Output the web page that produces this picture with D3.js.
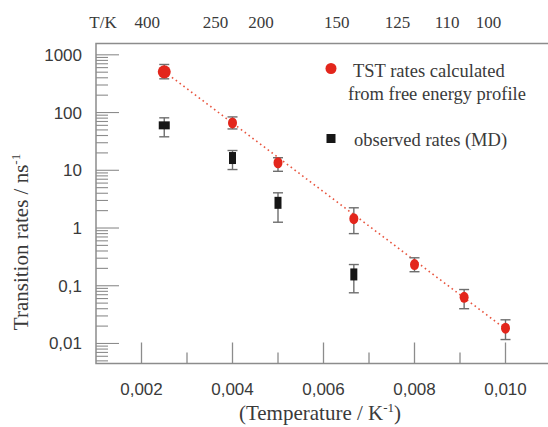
<!DOCTYPE html>
<html>
<head>
<meta charset="utf-8">
<script src="https://cdn.jsdelivr.net/npm/d3@7"></script>
<style>
  body { margin: 0; background: #fff; }
  svg { display: block; }
</style>
</head>
<body>
<svg id="chart" width="548" height="427"></svg>
<script>
// Inverse temperature (1/K) of each simulation
const invT = [0.0025, 0.004, 0.005, 1 / 150, 0.008, 1 / 110, 0.01];
const topTemps = [400, 250, 200, 150, 125, 110, 100];

// TST rates calculated from free energy profile (ns^-1)
const tstRate = [508, 66, 13.5, 1.45, 0.233, 0.063, 0.0184];
const tstLow = [384, 52, 9.6, 0.80, 0.175, 0.040, 0.0117];
const tstHigh = [680, 84, 16.5, 2.24, 0.305, 0.086, 0.0257];

// observed rates (MD)
const mdInvT = [0.0025, 0.004, 0.005, 1 / 150];
const mdRate = [60, 16.3, 2.73, 0.157];
const mdLow = [38, 10.3, 1.26, 0.0755];
const mdHigh = [81, 22, 4.07, 0.233];

// dotted Arrhenius fit
const fitInvT = [0.0025, 0.01];
const fitRate = [513, 0.0178];

const xTicks = [0.002, 0.004, 0.006, 0.008, 0.010];
const xMinor = [0.003, 0.005, 0.007, 0.009];
const yTicks = [1000, 100, 10, 1, 0.1, 0.01];
const yTickLabels = ['1000', '100', '10', '1', '0,1', '0,01'];

const svg = d3.select('#chart');
const plotLeft = 96, plotTop = 43.5, plotBottom = 363.5;

const x = d3.scaleLinear().domain([0.001, 0.011]).range([plotLeft, 551]);
const y = d3.scaleLog().domain([0.0045, 1570]).range([plotBottom, plotTop]);

const frame = '#8c8c8c';
const red = '#e3261c';
const txt = '#3a3a3a';
const serif = '"Liberation Serif", "DejaVu Serif", serif';
const sans = '"Liberation Sans", Arial, sans-serif';

// frame: top, left, bottom
svg.append('path')
    .attr('d', `M548,${plotTop}H${plotLeft}V${plotBottom}H548`)
    .attr('fill', 'none')
    .attr('stroke', frame)
    .attr('stroke-width', 1.5);

// x ticks (inside)
svg.selectAll('.xmaj').data(xTicks).enter().append('line')
    .attr('x1', d => x(d)).attr('x2', d => x(d))
    .attr('y1', plotBottom).attr('y2', plotBottom - 21)
    .attr('stroke', frame).attr('stroke-width', 1.3);
svg.selectAll('.xmin').data(xMinor).enter().append('line')
    .attr('x1', d => x(d)).attr('x2', d => x(d))
    .attr('y1', plotBottom).attr('y2', plotBottom - 11)
    .attr('stroke', frame).attr('stroke-width', 1.3);

svg.selectAll('.xlab').data(xTicks).enter().append('text')
    .attr('x', d => x(d)).attr('y', 395)
    .attr('text-anchor', 'middle')
    .attr('font-family', sans).attr('font-size', 17).attr('fill', txt)
    .text(d => d3.format('.3f')(d).replace('.', ','));

// y ticks (inside), log scale
const yAll = y.ticks().filter(d => d >= 0.005 && d <= 1500);
svg.selectAll('.ytick').data(yAll).enter().append('line')
    .attr('x1', plotLeft).attr('y1', d => y(d)).attr('y2', d => y(d))
    .attr('x2', d => yTicks.some(t => Math.abs(t - d) / t < 1e-6) ? plotLeft + 23 : plotLeft + 12)
    .attr('stroke', frame).attr('stroke-width', 1.1);

svg.selectAll('.ylab').data(yTicks).enter().append('text')
    .attr('x', 82).attr('y', d => y(d) + 6)
    .attr('text-anchor', 'end')
    .attr('font-family', sans).attr('font-size', 17).attr('fill', txt)
    .text((d, i) => yTickLabels[i]);

// top temperature labels
svg.append('text')
    .attr('x', 103).attr('y', 27.5).attr('text-anchor', 'middle')
    .attr('font-family', serif).attr('font-size', 17).attr('fill', txt)
    .text('T/K');
svg.selectAll('.tlab').data(topTemps).enter().append('text')
    .attr('x', d => x(1 / d) - 17).attr('y', 27.5)
    .attr('text-anchor', 'middle')
    .attr('font-family', serif).attr('font-size', 17).attr('fill', txt)
    .text(d => d);

// dotted fit line
const line = d3.line().x(d => x(d[0])).y(d => y(d[1]));
svg.append('path')
    .datum(fitInvT.map((d, i) => [d, fitRate[i]]))
    .attr('d', line)
    .attr('fill', 'none')
    .attr('stroke', '#e8553f')
    .attr('stroke-width', 1.6)
    .attr('stroke-dasharray', '1.6,3.2');

// error bars
function errorBars(xs, lo, hi) {
    const g = svg.append('g').attr('stroke', '#6e6e6e').attr('stroke-width', 1.4);
    xs.forEach((xv, i) => {
        g.append('line').attr('x1', x(xv)).attr('x2', x(xv)).attr('y1', y(lo[i])).attr('y2', y(hi[i]));
        g.append('line').attr('x1', x(xv) - 5).attr('x2', x(xv) + 5).attr('y1', y(lo[i])).attr('y2', y(lo[i]));
        g.append('line').attr('x1', x(xv) - 5).attr('x2', x(xv) + 5).attr('y1', y(hi[i])).attr('y2', y(hi[i]));
    });
}
errorBars(mdInvT, mdLow, mdHigh);
errorBars(invT, tstLow, tstHigh);

// observed MD squares
svg.selectAll('.md').data(mdInvT).enter().append('rect')
    .attr('width', (d, i) => i === 0 ? 11 : 7)
    .attr('height', (d, i) => i === 0 ? 8 : 12)
    .attr('x', (d, i) => x(d) - (i === 0 ? 5.5 : 3.5))
    .attr('y', (d, i) => y(mdRate[i]) - (i === 0 ? 4 : 6))
    .attr('fill', '#161616');

// TST circles
svg.selectAll('.tst').data(invT).enter().append('ellipse')
    .attr('cx', d => x(d))
    .attr('cy', (d, i) => y(tstRate[i]))
    .attr('rx', (d, i) => i === 0 ? 6.5 : 4.5)
    .attr('ry', (d, i) => i === 0 ? 6.5 : 5.5)
    .attr('fill', red);

// legend
svg.append('circle').attr('cx', 331).attr('cy', 68.5).attr('r', 5.5).attr('fill', red);
svg.append('rect').attr('x', 326.5).attr('y', 134).attr('width', 9).attr('height', 9).attr('fill', '#161616');
const legText = [
    { t: 'TST rates calculated', x: 353, y: 77 },
    { t: 'from free energy profile', x: 348, y: 100 },
    { t: 'observed rates (MD)', x: 354, y: 146 }
];
svg.selectAll('.leg').data(legText).enter().append('text')
    .attr('x', d => d.x).attr('y', d => d.y)
    .attr('font-family', serif).attr('font-size', 18.5).attr('fill', txt)
    .text(d => d.t);

// axis titles
const yt = svg.append('text')
    .attr('transform', 'translate(28,242) rotate(-90)')
    .attr('text-anchor', 'middle')
    .attr('font-family', serif).attr('font-size', 21).attr('fill', txt);
yt.append('tspan').text('Transition rates / ns');
yt.append('tspan').attr('font-size', 13).attr('dy', -8).text('-1');

const xt = svg.append('text')
    .attr('x', 320).attr('y', 420)
    .attr('text-anchor', 'middle')
    .attr('font-family', serif).attr('font-size', 21).attr('fill', txt);
xt.append('tspan').text('(Temperature / K');
xt.append('tspan').attr('font-size', 13).attr('dy', -8).text('-1');
xt.append('tspan').attr('dy', 8).text(')');
</script>
</body>
</html>
